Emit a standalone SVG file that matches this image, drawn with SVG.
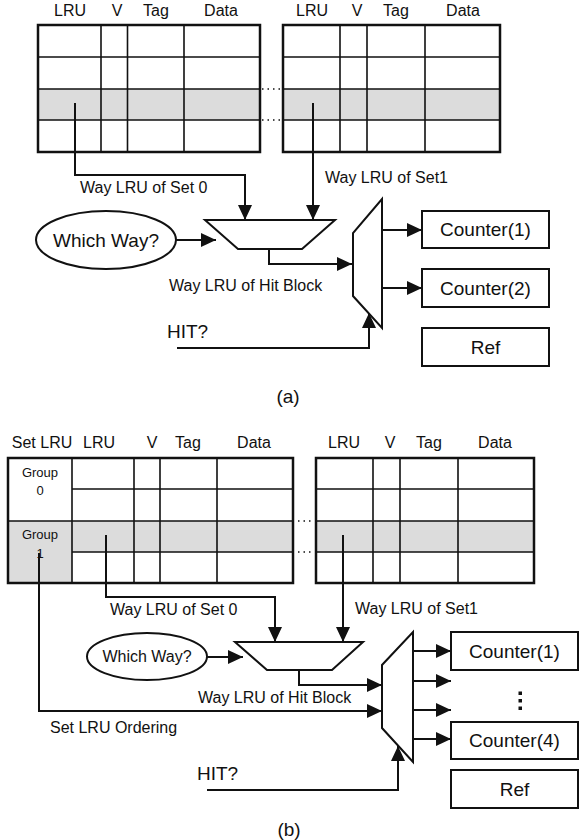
<svg xmlns="http://www.w3.org/2000/svg" width="584" height="840" viewBox="0 0 584 840">
<defs>
<style>
text{font-family:"Liberation Sans",Arial,sans-serif;fill:#111}
.h{font-size:16px;text-anchor:middle}
.l{font-size:16px}
.big{font-size:19px;text-anchor:middle}
.g{font-size:13px;text-anchor:middle}
.out{fill:none;stroke:#111;stroke-width:2.5}
.in{fill:none;stroke:#111;stroke-width:1.6}
.sh{fill:#dcdcdc;stroke:none}
.c{fill:none;stroke:#111;stroke-width:2}
.s{fill:#fff;stroke:#111;stroke-width:2}
.dot{fill:none;stroke:#111;stroke-width:1.5;stroke-dasharray:1.5 4}
</style>
<marker id="a" markerUnits="userSpaceOnUse" markerWidth="16" markerHeight="15" refX="15" refY="7" orient="auto">
<path d="M0,0 L15,7 L0,14 z" fill="#111"/>
</marker>
</defs>
<rect width="584" height="840" fill="#fff"/>

<!-- ===== (a) ===== -->
<g id="tableA0">
<rect class="sh" x="38" y="89" width="222" height="31"/>
<path class="in" d="M38,57 H260 M38,89 H260 M38,120 H260 M101,25 V152 M127.5,25 V152 M184,25 V152"/>
<rect class="out" x="38" y="25" width="222" height="127"/>
<text class="h" x="70" y="16">LRU</text>
<text class="h" x="117" y="16">V</text>
<text class="h" x="156" y="16">Tag</text>
<text class="h" x="221" y="16">Data</text>
</g>
<g id="tableA1">
<rect class="sh" x="283" y="89" width="217" height="31"/>
<path class="in" d="M283,57 H500 M283,89 H500 M283,120 H500 M340,25 V152 M367,25 V152 M425,25 V152"/>
<rect class="out" x="283" y="25" width="217" height="127"/>
<text class="h" x="312" y="16">LRU</text>
<text class="h" x="357" y="16">V</text>
<text class="h" x="396" y="16">Tag</text>
<text class="h" x="463" y="16">Data</text>
</g>
<g id="dotsA">
<path class="dot" d="M262,89 H280 M262,120 H280"/>
</g>
<g id="ellipseA">
<ellipse class="s" cx="106" cy="240" rx="70" ry="29"/>
<text class="big" x="106" y="247">Which Way?</text>
</g>
<g id="muxA1">
<polygon class="s" points="205,220 335,220 302,249 238,249"/>
</g>
<g id="muxA2">
<polygon class="s" points="382,199 382,328 353,296 353,233"/>
</g>
<g id="counterA1">
<rect class="s" x="422" y="211" width="127" height="37"/>
<text class="big" x="485.5" y="236">Counter(1)</text>
</g>
<g id="counterA2">
<rect class="s" x="422" y="269" width="127" height="38"/>
<text class="big" x="485.5" y="295">Counter(2)</text>
</g>
<g id="refA">
<rect class="s" x="422" y="328" width="127" height="38"/>
<text class="big" x="485.5" y="354">Ref</text>
</g>
<g id="connectorsA">
<path class="c" d="M75,103 V175 H245 V220" marker-end="url(#a)"/>
<path class="c" d="M313,103 V220" marker-end="url(#a)"/>
<path class="c" d="M176,240 H216" marker-end="url(#a)"/>
<path class="c" d="M269,249 V264 H352" marker-end="url(#a)"/>
<path class="c" d="M382,230 H422" marker-end="url(#a)"/>
<path class="c" d="M382,288 H422" marker-end="url(#a)"/>
<path class="c" d="M177,348 H369 V313" marker-end="url(#a)"/>
</g>
<g id="labelsA">
<text class="l" x="80" y="193">Way LRU of Set 0</text>
<text class="l" x="325" y="183">Way LRU of Set1</text>
<text class="l" x="169" y="291">Way LRU of Hit Block</text>
<text class="big" x="167" y="338" style="text-anchor:start">HIT?</text>
<text class="big" x="288" y="403">(a)</text>
</g>

<!-- ===== (b) ===== -->
<g id="tableB0">
<rect class="sh" x="72" y="521" width="221" height="31"/>
<rect class="sh" x="8" y="521" width="64" height="62"/>
<path class="in" d="M72,489 H293 M8,521 H293 M72,552 H293 M72,458 V583 M134,458 V583 M160,458 V583 M217,458 V583"/>
<rect class="out" x="8" y="458" width="285" height="125"/>
<text class="h" x="42" y="448">Set LRU</text>
<text class="h" x="99" y="448">LRU</text>
<text class="h" x="152" y="448">V</text>
<text class="h" x="188" y="448">Tag</text>
<text class="h" x="254" y="448">Data</text>
<text class="g" x="40" y="477">Group</text>
<text class="g" x="40" y="495">0</text>
<text class="g" x="40" y="539">Group</text>
<text class="g" x="40" y="558">1</text>
</g>
<g id="tableB1">
<rect class="sh" x="316" y="521" width="218" height="31"/>
<path class="in" d="M316,489 H534 M316,521 H534 M316,552 H534 M373,458 V583 M400,458 V583 M458,458 V583"/>
<rect class="out" x="316" y="458" width="218" height="125"/>
<text class="h" x="344" y="448">LRU</text>
<text class="h" x="390" y="448">V</text>
<text class="h" x="429" y="448">Tag</text>
<text class="h" x="495" y="448">Data</text>
</g>
<g id="dotsB">
<path class="dot" d="M298,521 H314 M298,552 H314"/>
</g>
<g id="ellipseB">
<ellipse class="s" cx="147" cy="656.5" rx="60" ry="23.5"/>
<text class="l" x="147" y="662" style="text-anchor:middle">Which Way?</text>
</g>
<g id="muxB1">
<polygon class="s" points="235,642 363,642 332,670 267,670"/>
</g>
<g id="muxB2">
<polygon class="s" points="413,632 413,762 382,728 382,665"/>
</g>
<g id="counterB1">
<rect class="s" x="451" y="632" width="127" height="38"/>
<text class="big" x="514.5" y="658">Counter(1)</text>
</g>
<g id="ellipsisB">
<rect x="518.5" y="691.5" width="3.5" height="3.5" fill="#111"/>
<rect x="518.5" y="699" width="3.5" height="3.5" fill="#111"/>
<rect x="518.5" y="706.5" width="3.5" height="3.5" fill="#111"/>
</g>
<g id="counterB4">
<rect class="s" x="451" y="722" width="127" height="37"/>
<text class="big" x="514.5" y="747">Counter(4)</text>
</g>
<g id="refB">
<rect class="s" x="451" y="770" width="127" height="38"/>
<text class="big" x="514.5" y="796">Ref</text>
</g>
<g id="connectorsB">
<path class="c" d="M106,535 V597 H275 V642" marker-end="url(#a)"/>
<path class="c" d="M343,535 V642" marker-end="url(#a)"/>
<path class="c" d="M207,657 H243" marker-end="url(#a)"/>
<path class="c" d="M299,670 V685 H382" marker-end="url(#a)"/>
<path class="c" d="M39,553 V711 H382" marker-end="url(#a)"/>
<path class="c" d="M413,651 H451" marker-end="url(#a)"/>
<path class="c" d="M413,681 H451" marker-end="url(#a)"/>
<path class="c" d="M413,710 H451" marker-end="url(#a)"/>
<path class="c" d="M413,739 H451" marker-end="url(#a)"/>
<path class="c" d="M207,790 H398 V746" marker-end="url(#a)"/>
</g>
<g id="labelsB">
<text class="l" x="110" y="615">Way LRU of Set 0</text>
<text class="l" x="355" y="614">Way LRU of Set1</text>
<text class="l" x="198" y="703">Way LRU of Hit Block</text>
<text class="l" x="50" y="733">Set LRU Ordering</text>
<text class="big" x="197" y="780" style="text-anchor:start">HIT?</text>
<text class="big" x="289" y="836">(b)</text>
</g>
</svg>
